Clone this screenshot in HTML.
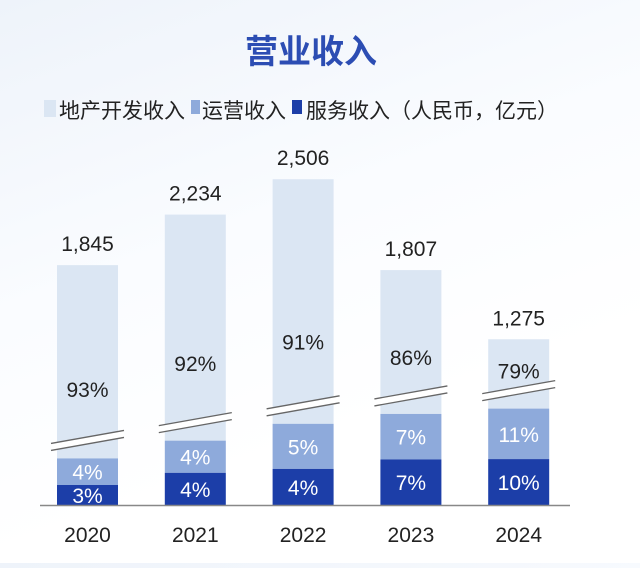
<!DOCTYPE html>
<html><head><meta charset="utf-8"><style>
body{margin:0;width:640px;height:563px;overflow:hidden;background:linear-gradient(160deg,#eef3fa 0%,#fafcff 40%,#ffffff 70%);font-family:"Liberation Sans","Noto Sans CJK SC",sans-serif;}
</style></head><body>
<svg id="chart" width="640" height="563" xmlns="http://www.w3.org/2000/svg" style="font-family:'Liberation Sans','Noto Sans CJK SC',sans-serif">
<text x="311" y="63" text-anchor="middle" font-size="33" font-weight="bold" fill="#2c4db3">营业收入</text>
<g font-size="21" fill="#222">
<rect x="44" y="100" width="12" height="17" fill="#dbe6f3"/>
<text x="59" y="118">地产开发收入</text>
<rect x="191" y="100" width="9" height="14" fill="#8eaadb"/>
<text x="202" y="118">运营收入</text>
<rect x="292" y="100" width="10" height="14" fill="#1c3ea8"/>
<text x="306" y="118">服务收入（人民币，亿元）</text>
</g>
<g id="bars"></g>
<line x1="40" y1="505.5" x2="570" y2="505.5" stroke="#888" stroke-width="1.5"/>
</svg>
<script>
const years=["2020","2021","2022","2023","2024"];
const totals=[1845,2234,2506,1807,1275];
const devPct=[93,92,91,86,79];
const opsPct=[4,4,5,7,11];
const svcPct=[3,4,4,7,10];
const base=505, x0=57, step=107.8, bw=61, totScale=0.13, segScale=0.36;
const ns="http://www.w3.org/2000/svg";
const g=document.getElementById('bars');
function mk(t,a){const e=document.createElementNS(ns,t);for(const k in a)e.setAttribute(k,a[k]);g.appendChild(e);return e;}
function xPos(i){return x0+i*step;}
function yTot(v){return base-v*totScale;}
years.forEach((yr,i)=>{
 const x=xPos(i), tot=totals[i];
 const svcH=Math.max(tot*svcPct[i]/100*segScale,20);
 const opsH=Math.max(tot*opsPct[i]/100*segScale,22);
 const svcTop=base-svcH, opsTop=svcTop-opsH, top=yTot(tot);
 let r=mk('rect',{x:x,y:top,width:bw,height:opsTop-top,fill:'#dbe6f3'});
 
 
 r=mk('rect',{x:x,y:opsTop,width:bw,height:opsH,fill:'#8eaadb'});
 
 
 r=mk('rect',{x:x,y:svcTop,width:bw,height:svcH,fill:'#1c3ea8'});
 
 
 const by=opsTop-8;
 const p=mk('polygon',{points:`${x-6},${by} ${x+bw+6},${by-13} ${x+bw+6},${by-20} ${x-6},${by-7}`,fill:'#fff'});
 
 
 [0,-7].forEach(d=>{const l=mk('line',{x1:x-6,y1:by+d,x2:x+bw+6,y2:by-13+d,stroke:'#666','stroke-width':1.3});
  
  });
 const breakTop=by-20;
 const lbl=(txt,y,fill,name,size)=>{const t=mk('text',{x:x+bw/2,y:y,'text-anchor':'middle','font-size':size||21,fill:fill});t.textContent=txt;
  
  };
 lbl(tot.toLocaleString('en-US'),top-14,'#222','total-label-'+yr);
 lbl(devPct[i]+'%',top+0.75*(breakTop-top)+8,'#222','dev-pct-'+yr);
 lbl(opsPct[i]+'%',opsTop+opsH/2+8,'#fff','ops-pct-'+yr);
 lbl(svcPct[i]+'%',svcTop+svcH/2+8,'#fff','svc-pct-'+yr);
 lbl(yr,542,'#222','x-tick-'+yr);
});
</script>
</body></html>
